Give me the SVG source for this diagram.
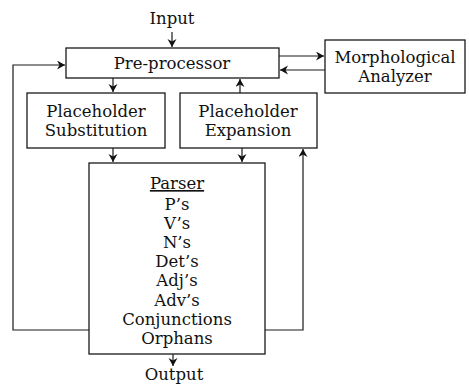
<svg xmlns="http://www.w3.org/2000/svg" width="469" height="385" viewBox="0 0 469 385">
<defs>
<style>
.box{fill:#fff;stroke:#1a1a1a;stroke-width:1.3}
.ln{fill:none;stroke:#1a1a1a;stroke-width:1.2}
text{font-family:"DejaVu Serif","Liberation Serif",serif;font-size:16.5px;fill:#111;text-anchor:middle}
</style>
<marker id="ah" markerUnits="userSpaceOnUse" markerWidth="10" markerHeight="10" refX="8" refY="4.5" orient="auto">
<path d="M0,0 L8,4.5 L0,9 L2.5,4.5 z" fill="#111"/>
</marker>
</defs>
<g id="connectors">
<line class="ln" x1="172" y1="32" x2="172" y2="47" marker-end="url(#ah)"/>
<line class="ln" x1="279" y1="56" x2="324" y2="56" marker-end="url(#ah)"/>
<line class="ln" x1="325" y1="70" x2="280" y2="70" marker-end="url(#ah)"/>
<line class="ln" x1="113" y1="78" x2="113" y2="92" marker-end="url(#ah)"/>
<line class="ln" x1="240" y1="93" x2="240" y2="79" marker-end="url(#ah)"/>
<line class="ln" x1="113" y1="148" x2="113" y2="162" marker-end="url(#ah)"/>
<line class="ln" x1="242" y1="148" x2="242" y2="162" marker-end="url(#ah)"/>
<polyline class="ln" points="89,330 13,330 13,65 65,65" marker-end="url(#ah)"/>
<polyline class="ln" points="265,330 303,330 303,149" marker-end="url(#ah)"/>
<line class="ln" x1="173" y1="354" x2="173" y2="366" marker-end="url(#ah)"/>
</g>
<g id="input"><text x="172" y="24">Input</text></g>
<g id="preprocessor">
<rect class="box" x="66" y="48" width="213" height="30"/>
<text x="172" y="69">Pre-processor</text>
</g>
<g id="morph">
<rect class="box" x="325" y="40" width="140" height="53"/>
<text x="395" y="63">Morphological</text>
<text x="395" y="82">Analyzer</text>
</g>
<g id="subst">
<rect class="box" x="27" y="93" width="138" height="55"/>
<text x="96" y="117">Placeholder</text>
<text x="96" y="136">Substitution</text>
</g>
<g id="expansion">
<rect class="box" x="180" y="93" width="137" height="55"/>
<text x="248" y="117">Placeholder</text>
<text x="248" y="136">Expansion</text>
</g>
<g id="parser">
<rect class="box" x="89" y="163" width="176" height="191"/>
<text x="177" y="189" text-decoration="underline">Parser</text>
<text x="177" y="209.5">P’s</text>
<text x="177" y="228.7">V’s</text>
<text x="177" y="247.9">N’s</text>
<text x="177" y="267.1">Det’s</text>
<text x="177" y="286.3">Adj’s</text>
<text x="177" y="305.5">Adv’s</text>
<text x="177" y="324.7">Conjunctions</text>
<text x="177" y="343.5">Orphans</text>
</g>
<g id="output"><text x="174" y="380" font-size="16">Output</text></g>
</svg>
